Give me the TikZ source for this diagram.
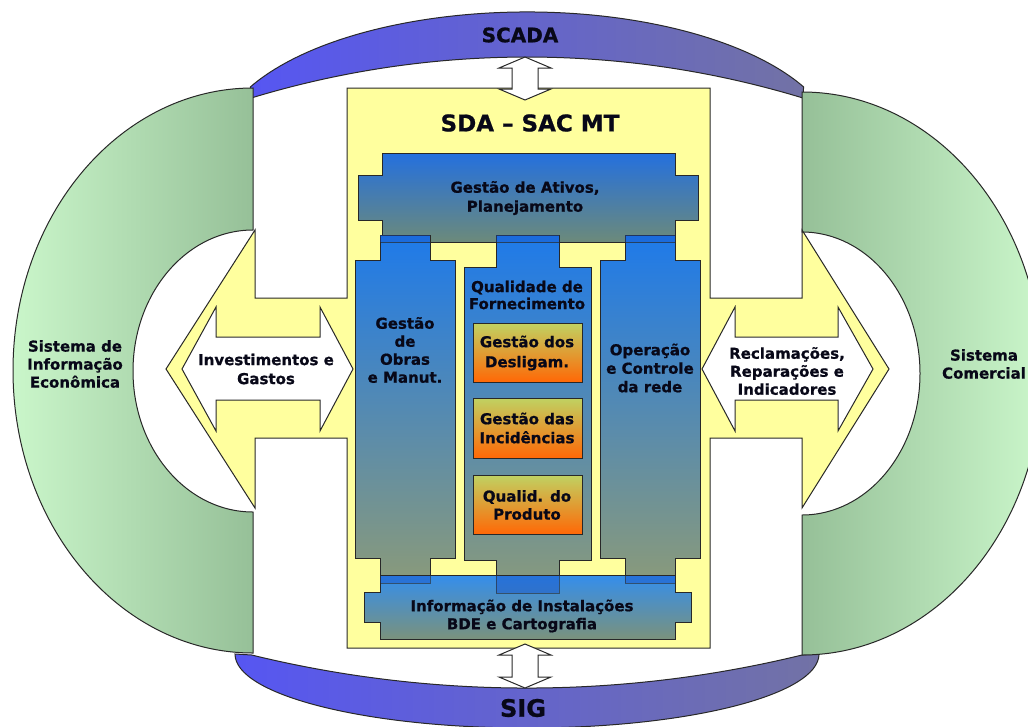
\documentclass[tikz,border=0pt]{standalone}
\usepackage{fontspec}
\setmainfont{DejaVu Sans}[BoldFeatures={FakeBold=0.8}]
\definecolor{ylw}{RGB}{255,255,158}
\definecolor{grnL}{RGB}{202,246,202}
\definecolor{grnD}{RGB}{150,192,152}
\definecolor{bandL}{RGB}{86,86,242}
\definecolor{bandM}{RGB}{98,98,225}
\definecolor{bandR}{RGB}{114,114,165}
\definecolor{bluT}{RGB}{30,122,234}
\definecolor{bluB}{RGB}{138,154,122}
\definecolor{infT}{RGB}{52,142,236}
\definecolor{infB}{RGB}{122,146,124}
\definecolor{orT}{RGB}{192,210,98}
\definecolor{orM}{RGB}{242,172,40}
\definecolor{orB}{RGB}{255,104,6}
\definecolor{edge}{RGB}{40,40,40}
\definecolor{txt}{RGB}{8,8,24}
\definecolor{tabdark}{RGB}{20,80,200}
\tikzset{
  outline/.style={draw=edge, line width=1pt, line join=miter},
  lbl/.style={text=txt, align=center, inner sep=0pt, font=\fontsize{15}{18}\selectfont\bfseries},
  bluebox/.style={outline, top color=bluT, bottom color=bluB},
  orbox/.style={outline, top color=orT, middle color=orM, bottom color=orB},
  whitearrow/.style={outline, fill=white},
}
\begin{document}
\begin{tikzpicture}[x=1pt,y=-1pt]
\useasboundingbox (0,0) rectangle (1028,726);
\fill[white] (0,0) rectangle (1028,726);

% SCADA band
\path[outline, left color=bandL, right color=bandR]
  (250.4,86.9) arc[start angle=207.2, end angle=332.8, x radius=311, y radius=138]
  -- (802.9,98) arc[start angle=286.9, end angle=253.1, radius=949] -- cycle;
% SIG band
\path[outline, left color=bandL, right color=bandR]
  (235,654) arc[start angle=180, end angle=0, x radius=292, y radius=74]
  -- (802,655) arc[start angle=76.3, end angle=103.7, radius=1162] -- cycle;

% green half rings
\path[outline, left color=grnL, right color=grnD]
  (253,88) arc[start angle=270, end angle=90, x radius=240, y radius=282.5]
  -- (253,512) arc[start angle=90, end angle=270, x radius=120, y radius=141] -- cycle;
\path[outline, left color=grnD, right color=grnL]
  (802,92) arc[start angle=-90, end angle=90, x radius=240, y radius=281.5]
  -- (802,515) arc[start angle=90, end angle=-90, x radius=118, y radius=141.5] -- cycle;

% yellow frame with big arrows
\path[outline, fill=ylw]
  (347,88) -- (710,88) -- (710,298) -- (802,298) -- (802,230) -- (889,369)
  -- (802,508) -- (802,438) -- (710,438) -- (710,648) -- (347,648) -- (347,438)
  -- (255,438) -- (255,508) -- (166,369) -- (255,230) -- (255,298) -- (347,298) -- cycle;

% Gestao de Ativos
\path[outline, top color={rgb,255:red,36;green,112;blue,222}, bottom color={rgb,255:red,108;green,138;blue,122}]
  (382,153) -- (675,153) -- (675,175) -- (698,175) -- (698,220) -- (675,220)
  -- (675,242) -- (382,242) -- (382,220) -- (358,220) -- (358,175) -- (382,175) -- cycle;

% columns
\path[bluebox] (380,235) -- (430,235) -- (430,260) -- (455,260) -- (455,558) -- (430,558)
  -- (430,583) -- (380,583) -- (380,558) -- (355,558) -- (355,260) -- (380,260) -- cycle;
\path[bluebox] (496,235) -- (559,235) -- (559,267) -- (591,267) -- (591,560) -- (559,560)
  -- (559,593) -- (496,593) -- (496,560) -- (464,560) -- (464,267) -- (496,267) -- cycle;
\path[bluebox] (625,235) -- (675,235) -- (675,260) -- (700,260) -- (700,558) -- (675,558)
  -- (675,583) -- (625,583) -- (625,558) -- (600,558) -- (600,260) -- (625,260) -- cycle;
% overlap of top tabs with Ativos
\foreach \a/\b in {380/430, 496/559, 625/675}{
  \fill[tabdark, opacity=0.35] (\a,235) rectangle (\b,242);
  \draw[edge, line width=1pt, opacity=0.7] (\a,242) -- (\b,242);
}

% Informacao de Instalacoes
\path[outline, top color=infT, bottom color=infB]
  (380,575) -- (675,575) -- (675,592) -- (691,592) -- (691,622) -- (675,622)
  -- (675,639) -- (380,639) -- (380,622) -- (364,622) -- (364,592) -- (380,592) -- cycle;
\foreach \a/\b/\c in {380/430/583, 496/559/593, 625/675/583}{
  \fill[tabdark, opacity=0.45] (\a,576) rectangle (\b,\c);
  \draw[edge, line width=0.8pt, opacity=0.6] (\a,576) -- (\a,\c) -- (\b,\c) -- (\b,576);
}

% orange boxes
\path[orbox] (473,323) rectangle (582,382);
\path[orbox] (473,398) rectangle (582,458);
\path[orbox] (473,475) rectangle (582,534);

% white double arrows
\path[whitearrow] (182,369) -- (216,307) -- (216,337) -- (320,337) -- (320,307) -- (353,369)
  -- (320,431) -- (320,400) -- (216,400) -- (216,431) -- cycle;
\path[whitearrow] (702,369) -- (735,307) -- (735,337) -- (838,337) -- (838,307) -- (873,369)
  -- (838,431) -- (838,400) -- (735,400) -- (735,431) -- cycle;
\path[whitearrow] (525,57) -- (551,68) -- (538,68) -- (538,89) -- (551,89) -- (525,100)
  -- (499,89) -- (512,89) -- (512,68) -- (499,68) -- cycle;
\path[whitearrow] (525,644) -- (551,655) -- (538,655) -- (538,677) -- (551,677) -- (525,688)
  -- (499,677) -- (512,677) -- (512,655) -- (499,655) -- cycle;

% texts
\node[lbl, font=\fontsize{20}{24}\selectfont\bfseries] (scada) at (520,35) {SCADA};
\node[lbl, font=\fontsize{24}{28}\selectfont\bfseries] (sig) at (523,708) {SIG};
\node[lbl, font=\fontsize{23}{27}\selectfont\bfseries] (sda) at (530,123) {SDA – SAC MT};
\node[lbl, font=\fontsize{15}{19}\selectfont\bfseries] (ativos) at (525,198) {Gestão de Ativos,\\Planejamento};
\node[lbl, font=\fontsize{15}{17}\selectfont\bfseries] (qual) at (527,295) {Qualidade de\\Fornecimento};
\node[lbl] (obras) at (405,350) {Gestão\\de\\Obras\\e Manut.};
\node[lbl, font=\fontsize{15}{18.5}\selectfont\bfseries] (oper) at (650,368) {Operação\\e Controle\\da rede};
\node[lbl, font=\fontsize{15}{20}\selectfont\bfseries] (desl) at (527,353) {Gestão dos\\Desligam.};
\node[lbl, font=\fontsize{15}{19}\selectfont\bfseries] (inc) at (527,428) {Gestão das\\Incidências};
\node[lbl] (prod) at (527,505) {Qualid. do\\Produto};
\node[lbl, font=\fontsize{15}{18}\selectfont\bfseries] (info) at (522,616) {Informação de Instalações\\BDE e Cartografia};
\node[lbl, font=\fontsize{15}{19}\selectfont\bfseries] (invest) at (266,369) {Investimentos e\\Gastos};
\node[lbl] (recl) at (787,371) {Reclamações,\\Reparações e\\Indicadores};
\node[lbl] (sie) at (75,364) {Sistema de\\Informação\\Econômica};
\node[lbl] (scom) at (984,364) {Sistema\\Comercial};
\end{tikzpicture}
\end{document}
